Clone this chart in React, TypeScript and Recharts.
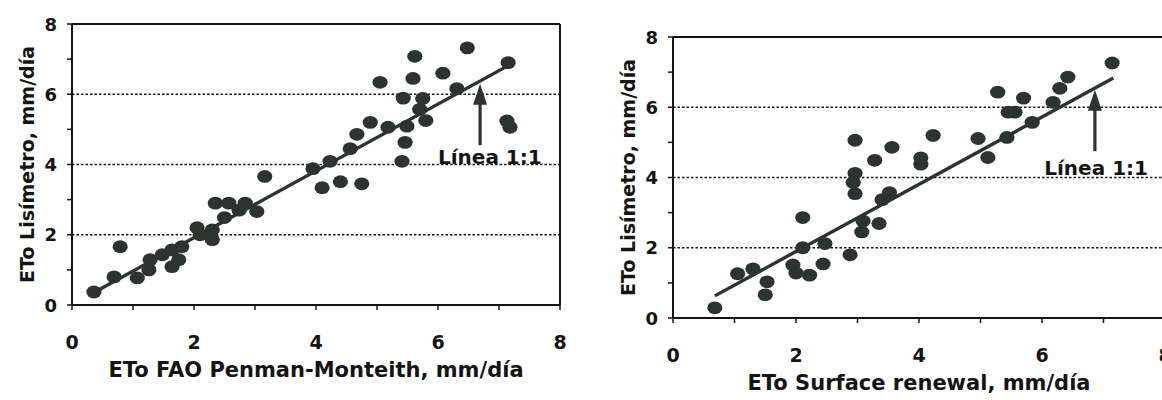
import React from "react";
import {
  ScatterChart,
  Scatter,
  XAxis,
  YAxis,
  ReferenceLine,
  ReferenceDot,
} from "recharts";

// ETo FAO Penman-Monteith vs lisímetro (mm/día)
const pmX = [0.36, 0.69, 0.79, 1.07, 1.26, 1.28, 1.48, 1.64, 1.64, 1.75, 1.8, 2.05, 2.1, 2.3, 2.3, 2.5, 2.35, 2.57, 2.74, 2.84, 3.03, 3.16, 3.95, 4.1, 4.23, 4.4, 4.56, 4.67, 4.75, 4.89, 5.05, 5.18, 5.41, 5.43, 5.46, 5.49, 5.62, 5.59, 5.7, 5.75, 5.8, 6.08, 6.31, 6.48, 7.15, 7.13, 7.18];
const pmY = [0.37, 0.8, 1.66, 0.77, 1.0, 1.29, 1.43, 1.57, 1.09, 1.29, 1.66, 2.2, 2.0, 1.86, 2.14, 2.49, 2.9, 2.9, 2.7, 2.9, 2.66, 3.66, 3.88, 3.34, 4.09, 3.51, 4.45, 4.86, 3.45, 5.2, 6.34, 5.06, 4.09, 5.89, 4.63, 5.09, 7.08, 6.45, 5.57, 5.88, 5.25, 6.6, 6.16, 7.32, 6.9, 5.24, 5.06];

// ETo Surface renewal vs lisímetro (mm/día)
const srX = [0.68, 1.05, 1.3, 1.5, 1.53, 1.95, 2.0, 2.22, 2.11, 2.11, 2.44, 2.47, 2.88, 3.07, 3.09, 3.35, 2.96, 2.96, 2.93, 2.96, 3.28, 3.56, 3.4, 3.52, 4.03, 4.03, 4.23, 4.96, 5.12, 5.43, 5.28, 5.7, 5.45, 5.56, 5.84, 6.18, 6.29, 6.42, 7.14];
const srY = [0.29, 1.26, 1.4, 0.66, 1.03, 1.51, 1.28, 1.22, 2.0, 2.86, 1.54, 2.12, 1.8, 2.45, 2.76, 2.69, 5.06, 4.12, 3.86, 3.54, 4.49, 4.86, 3.37, 3.57, 4.56, 4.38, 5.2, 5.11, 4.57, 5.14, 6.43, 6.26, 5.86, 5.86, 5.57, 6.14, 6.54, 6.86, 7.26];

const axisTicks = [0, 1, 2, 3, 4, 5, 6, 7, 8];
const gridLevels = [2, 4, 6];

// "Línea 1:1" segments, arrow and label anchor for each panel
const pmLine = [{ x: 0.3, y: 0.3 }, { x: 7.22, y: 6.88 }];
const pmArrow = { x: 6.69, from: 4.55, to: 6.3 };
const pmLabel = { x: 6.85, y: 4.2 };

const srLine = [{ x: 0.68, y: 0.63 }, { x: 7.16, y: 6.83 }];
const srArrow = { x: 6.86, from: 4.75, to: 6.5 };
const srLabel = { x: 6.88, y: 4.26 };

const toPoints = (xs: number[], ys: number[]) => xs.map((x, i) => ({ x, y: ys[i] }));

const INK = "#141414";
const DOT = "#2c3430";
const FONT = "'DejaVu Sans', 'Liberation Sans', Arial, sans-serif";

const Dot = (props: any) => {
  const { cx, cy } = props;
  if (cx == null || cy == null) return null;
  return <ellipse cx={cx} cy={cy} rx={7.6} ry={6.4} fill={DOT} />;
};

const XTick = (props: any) => {
  const { x, y, payload } = props;
  if (payload.value % 2 !== 0) return null;
  return (
    <text x={x} y={y + 37} textAnchor="middle" fontFamily={FONT} fontWeight={700} fontSize={19} fill={INK}>
      {payload.value}
    </text>
  );
};

const YTick = (props: any) => {
  const { x, y, payload } = props;
  if (payload.value % 2 !== 0) return null;
  return (
    <text x={x} y={y} textAnchor="end" dominantBaseline="central" fontFamily={FONT} fontWeight={700} fontSize={18} fill={INK}>
      {payload.value}
    </text>
  );
};

const arrowHead = (props: any) => {
  const { cx, cy } = props;
  return <polygon points={`${cx},${cy} ${cx - 7},${cy + 21} ${cx + 7},${cy + 21}`} fill={DOT} />;
};

const lineLabel = (props: any) => {
  const { cx, cy } = props;
  return (
    <text x={cx} y={cy} textAnchor="middle" dominantBaseline="central" fontFamily={FONT} fontWeight={700} fontSize={20} fill={INK}>
      Línea 1:1
    </text>
  );
};

type PanelProps = {
  width: number;
  top: number;
  right: number;
  xTitle: string;
  points: { x: number; y: number }[];
  line: { x: number; y: number }[];
  arrow: { x: number; from: number; to: number };
  label: { x: number; y: number };
};

function Panel({ width, top, right, xTitle, points, line, arrow, label }: PanelProps) {
  return (
    <ScatterChart width={width} height={400} margin={{ top, right, bottom: 0, left: 0 }}>
      {gridLevels.map((v) => (
        <ReferenceLine key={v} y={v} stroke={INK} strokeWidth={1.6} strokeDasharray="2.5 2" />
      ))}
      <ReferenceLine y={8} stroke={INK} strokeWidth={2} />
      <ReferenceLine x={8} stroke={INK} strokeWidth={2} />
      <XAxis
        type="number"
        dataKey="x"
        domain={[0, 8]}
        ticks={axisTicks}
        interval={0}
        allowDataOverflow
        height={400 - top - 281}
        axisLine={{ stroke: INK, strokeWidth: 2 }}
        tickLine={{ stroke: INK, strokeWidth: 1.5 }}
        tickSize={5}
        tick={<XTick />}
        label={{
          content: (p: any) => {
            const vb = p.viewBox;
            return (
              <text
                x={vb.x + vb.width / 2}
                y={vb.y + 72}
                textAnchor="middle"
                fontFamily={FONT}
                fontWeight={700}
                fontSize={21}
                fill={INK}
              >
                {xTitle}
              </text>
            );
          },
        }}
      />
      <YAxis
        type="number"
        dataKey="y"
        domain={[0, 8]}
        ticks={axisTicks}
        interval={0}
        allowDataOverflow
        width={72}
        axisLine={{ stroke: INK, strokeWidth: 2 }}
        tickLine={{ stroke: INK, strokeWidth: 1.5 }}
        tickSize={5}
        tickMargin={10}
        tick={<YTick />}
        label={{
          content: (p: any) => {
            const vb = p.viewBox;
            const cx = vb.x + 27;
            const cy = vb.y + vb.height / 2;
            return (
              <text
                x={cx}
                y={cy}
                transform={`rotate(-90 ${cx} ${cy})`}
                textAnchor="middle"
                dominantBaseline="central"
                fontFamily={FONT}
                fontWeight={700}
                fontSize={19}
                fill={INK}
              >
                ETo Lisímetro, mm/día
              </text>
            );
          },
        }}
      />
      <ReferenceLine segment={line} stroke={DOT} strokeWidth={3.4} />
      <ReferenceLine
        segment={[{ x: arrow.x, y: arrow.from }, { x: arrow.x, y: arrow.to - 0.4 }]}
        stroke={DOT}
        strokeWidth={3.2}
      />
      <ReferenceDot x={arrow.x} y={arrow.to} shape={arrowHead} />
      <ReferenceDot x={label.x} y={label.y} shape={lineLabel} />
      <Scatter data={points} shape={<Dot />} isAnimationActive={false} />
    </ScatterChart>
  );
}

export default function App() {
  return (
    <div
      style={{
        position: "fixed",
        left: 0,
        top: 0,
        width: 1162,
        height: 400,
        overflow: "hidden",
        background: "#fff",
      }}
    >
      <div style={{ position: "absolute", left: 0, top: 0 }}>
        <Panel
          width={570}
          top={24}
          right={10}
          xTitle="ETo FAO Penman-Monteith, mm/día"
          points={toPoints(pmX, pmY)}
          line={pmLine}
          arrow={pmArrow}
          label={pmLabel}
        />
      </div>
      <div style={{ position: "absolute", left: 601, top: 0 }}>
        <Panel
          width={580}
          top={37}
          right={16}
          xTitle="ETo Surface renewal, mm/día"
          points={toPoints(srX, srY)}
          line={srLine}
          arrow={srArrow}
          label={srLabel}
        />
      </div>
    </div>
  );
}
